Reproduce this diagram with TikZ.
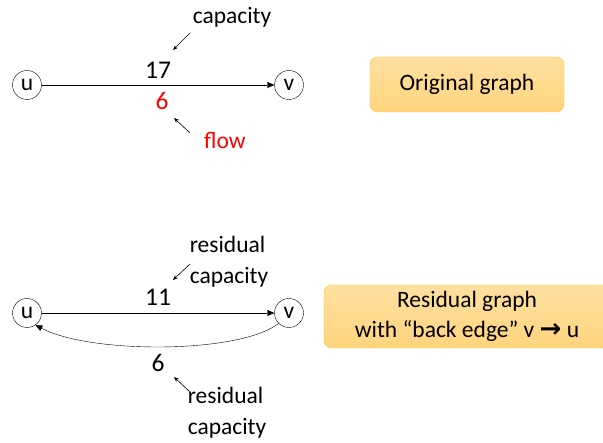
\documentclass[tikz,border=0pt]{standalone}
\usepackage{fontspec}
\setmainfont{Carlito}
\usetikzlibrary{arrows.meta,shadings}
\definecolor{boxtop}{RGB}{255,224,160}
\definecolor{boxbot}{RGB}{255,212,125}
\definecolor{boxline}{RGB}{255,192,20}
\tikzset{
  vert/.style={circle, draw, thin, minimum size=29pt, inner sep=0pt},
  lbl/.style={inner sep=1pt, font=\fontsize{25.5}{30}\selectfont},
  note/.style={inner sep=1pt, align=left, font=\fontsize{23.5}{31}\selectfont},
  pointer/.style={->, >={Stealth[length=5pt,width=4pt]}, semithick},
  caption/.style={draw=boxline, rounded corners=8pt, top color=boxtop, bottom color=boxbot, align=center, font=\fontsize{23.5}{30}\selectfont}
}
\begin{document}
\begin{tikzpicture}[x=1pt, y=-1pt, font=\fontsize{23.5}{28}\selectfont, >={Triangle[length=7pt,width=6pt]}, line join=round]
  \useasboundingbox (0,0) rectangle (603,443);
  % original graph
  \node[vert] (u1) at (27,85) {u};
  \node[vert] (v1) at (289,85) {v};
  \draw[->] (u1) -- (v1);
  \node[lbl] (c17) at (158,70) {17};
  \node[lbl, red] (f6) at (162,101) {6};
  \node[note] (cap) at (232,17) {capacity};
  \node[note, red] (flow) at (225,140) {flow};
  \draw[pointer] ([shift={(-42,16)}]cap.center) -- ([shift={(15,-20)}]c17.center);
  \draw[pointer] ([shift={(-35,-7)}]flow.center) -- ([shift={(12,17)}]f6.center);
  \node[caption, minimum width=194pt, minimum height=55pt] (orig) at (467,84.5) {Original graph};
  % residual graph
  \node[vert] (u2) at (27,313) {u};
  \node[vert] (v2) at (289,313) {v};
  \draw[->] (u2) -- (v2);
  \draw[->] (v2.225) .. controls (240,354) and (90,354) .. (u2.-55);
  \node[lbl] (r11) at (158,297) {11};
  \node[lbl] (r6) at (158,363) {6};
  \node[note] (res1) at (229,262) {residual\\capacity};
  \node[note] (res2) at (227,413) {residual\\capacity};
  \draw[pointer] ([shift={(-39,2)}]res1.center) -- ([shift={(15,-17)}]r11.center);
  \draw[pointer] ([shift={(-37,-21)}]res2.center) -- ([shift={(16,14)}]r6.center);
  \node[caption, minimum width=286pt, minimum height=63pt] (resid) at (467,316.5)
    {Residual graph\\with “back edge” v {\fontspec{DejaVu Sans}\bfseries\fontsize{26}{30}\selectfont →} u};
\end{tikzpicture}
\end{document}
